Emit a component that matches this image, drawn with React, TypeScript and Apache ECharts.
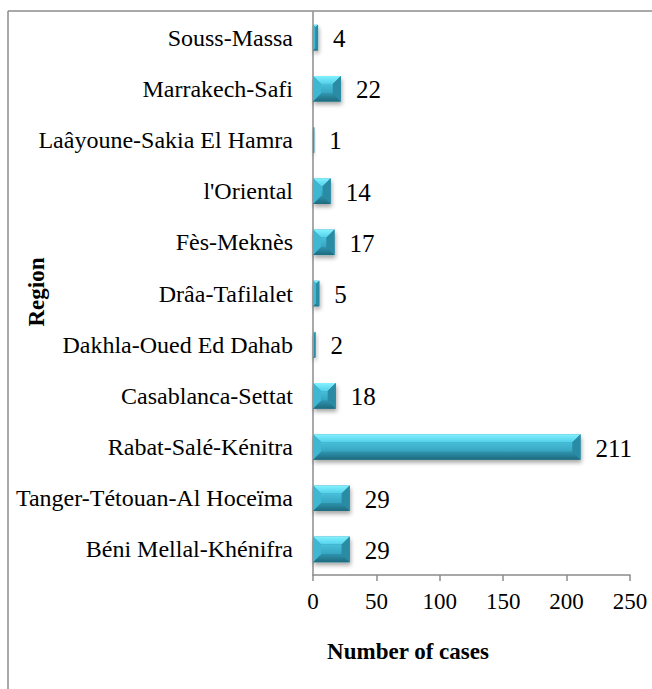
import React, { useEffect, useRef } from "react";
import * as echarts from "echarts";

const categories: string[] = [
  "Béni Mellal-Khénifra",
  "Tanger-Tétouan-Al Hoceïma",
  "Rabat-Salé-Kénitra",
  "Casablanca-Settat",
  "Dakhla-Oued Ed Dahab",
  "Drâa-Tafilalet",
  "Fès-Meknès",
  "l'Oriental",
  "Laâyoune-Sakia El Hamra",
  "Marrakech-Safi",
  "Souss-Massa",
];
const cases: number[] = [29, 29, 211, 18, 2, 5, 17, 14, 1, 22, 4];
const xTicks = { min: 0, max: 250, interval: 50 };
const xAxisTitle = "Number of cases";
const yAxisTitle = "Region";

const FONT = "Liberation Serif";
const AXIS = "#8c8c8c";

export default function App() {
  const ref = useRef<HTMLDivElement>(null);
  useEffect(() => {
    if (!ref.current) return;
    const chart = echarts.init(ref.current, null, { renderer: "svg" });
    const G = echarts.graphic;
    const renderItem = (params: any, api: any) => {
      const val = api.value(0);
      const idx = api.value(1);
      const s = api.coord([0, idx]);
      const e = api.coord([val, idx]);
      const band = api.size([0, 1])[1];
      const h = band * 0.5;
      const x0 = s[0];
      const x1 = e[0];
      const y0 = s[1] - h / 2;
      const y1 = y0 + h;
      const w = x1 - x0;
      const d = Math.min(8, w / 2, h / 2);
      return {
        type: "group",
        children: [
          {
            type: "rect",
            shape: { x: x0, y: y0, width: w, height: h },
            style: {
              fill: "#2b8aa2",
              shadowBlur: 4,
              shadowOffsetX: 1,
              shadowOffsetY: 3,
              shadowColor: "rgba(0,0,0,0.35)",
            },
          },
          {
            type: "rect",
            shape: { x: x0 + d, y: y0 + d, width: w - 2 * d, height: h - 2 * d },
            style: {
              fill: new G.LinearGradient(0, 0, 0, 1, [
                { offset: 0, color: "#48bfda" },
                { offset: 1, color: "#36a4c0" },
              ]),
            },
          },
          {
            type: "polygon",
            shape: { points: [[x0, y0], [x1, y0], [x1 - d, y0 + d], [x0 + d, y0 + d]] },
            style: {
              fill: new G.LinearGradient(0, 0, 0, 1, [
                { offset: 0, color: "#82f2ff" },
                { offset: 1, color: "#52cfe9" },
              ]),
            },
          },
          {
            type: "polygon",
            shape: { points: [[x0, y1], [x1, y1], [x1 - d, y1 - d], [x0 + d, y1 - d]] },
            style: {
              fill: new G.LinearGradient(0, 0, 0, 1, [
                { offset: 0, color: "#2f93ad" },
                { offset: 1, color: "#1d6a7d" },
              ]),
            },
          },
          {
            type: "polygon",
            shape: { points: [[x0, y0], [x0 + d, y0 + d], [x0 + d, y1 - d], [x0, y1]] },
            style: { fill: "#3fb6d2" },
          },
          {
            type: "polygon",
            shape: { points: [[x1, y0], [x1 - d, y0 + d], [x1 - d, y1 - d], [x1, y1]] },
            style: { fill: "#2a8ba4" },
          },
          {
            type: "text",
            x: x1 + 15,
            y: s[1] + 1,
            style: {
              text: String(val),
              fill: "#000",
              fontSize: 25,
              fontFamily: FONT,
              align: "left",
              verticalAlign: "middle",
            },
          },
        ],
      };
    };

    chart.setOption({
      animation: false,
      backgroundColor: "#fff",
      textStyle: { fontFamily: FONT },
      grid: { left: 313, right: 22, top: 12, bottom: 114, containLabel: false },
      xAxis: {
        type: "value",
        min: xTicks.min,
        max: xTicks.max,
        interval: xTicks.interval,
        axisLine: { show: true, lineStyle: { color: AXIS, width: 1.5 } },
        axisTick: { show: true, length: 6, lineStyle: { color: AXIS, width: 1.5 } },
        splitLine: { show: false },
        axisLabel: { color: "#000", fontSize: 23, fontFamily: FONT, margin: 15 },
      },
      yAxis: {
        type: "category",
        data: categories,
        axisLine: { show: true, lineStyle: { color: AXIS, width: 1.5 } },
        axisTick: { show: false },
        axisLabel: { color: "#000", fontSize: 24, fontFamily: FONT, margin: 20 },
      },
      series: [
        {
          type: "custom",
          renderItem,
          encode: { x: 0, y: 1 },
          data: cases.map((v, i) => [v, i]),
          z: 3,
        },
      ],
      graphic: [
        {
          type: "line",
          shape: { x1: 8, y1: 11, x2: 660, y2: 11 },
          style: { stroke: AXIS, lineWidth: 1.5 },
        },
        {
          type: "line",
          shape: { x1: 8, y1: 11, x2: 8, y2: 700 },
          style: { stroke: AXIS, lineWidth: 1.5 },
        },
        {
          type: "text",
          x: 408,
          y: 651,
          style: {
            text: xAxisTitle,
            fill: "#000",
            fontSize: 23,
            fontWeight: "bold",
            fontFamily: FONT,
            align: "center",
            verticalAlign: "middle",
          },
        },
        {
          type: "text",
          x: 36,
          y: 292,
          rotation: Math.PI / 2,
          style: {
            text: yAxisTitle,
            fill: "#000",
            fontSize: 23,
            fontWeight: "bold",
            fontFamily: FONT,
            align: "center",
            verticalAlign: "middle",
          },
        },
      ],
    });
    return () => chart.dispose();
  }, []);
  return (
    <div
      ref={ref}
      style={{ position: "fixed", left: 0, top: 0, width: 652, height: 689, background: "#fff" }}
    />
  );
}
